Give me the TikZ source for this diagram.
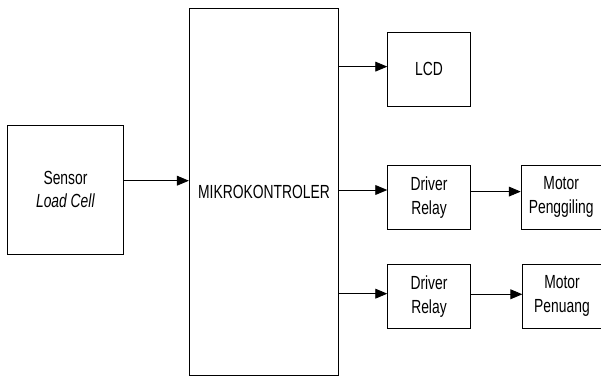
\documentclass[tikz,border=0pt]{standalone}
\usepackage{fontspec}
\setmainfont{Liberation Sans}[FakeStretch=0.73]
\usepackage{tikz}
\usetikzlibrary{arrows.meta, positioning}

\begin{document}
\begin{tikzpicture}[
  x=0.025cm, y=-0.025cm,
  node distance=0.85cm and 1.25cm,
  box/.style={draw, line width=0.6pt, align=center,
              font=\fontsize{13.5}{17}\selectfont, inner sep=0pt},
  arr/.style={-{Triangle[length=8.5pt, width=7pt]}, line width=0.6pt}
]
  \useasboundingbox (0,0) rectangle (601,376);

  \node[box, minimum width=2.91cm, minimum height=3.225cm] (sensor) at (65.5,189.5)
    {Sensor\\ \textit{Load Cell}};
  \node[box, minimum width=3.735cm, minimum height=9.17cm] (mcu) at (264,191.7)
    {MIKROKONTROLER};
  \node[box, minimum width=2.065cm, minimum height=1.61cm] (drv1) at (429,197.2)
    {Driver\\ Relay};
  \node[box, minimum width=2.065cm, minimum height=1.835cm, above=1.45cm of drv1] (lcd)
    {LCD};
  \node[box, minimum width=2.065cm, minimum height=1.6cm, below=of drv1] (drv2)
    {Driver\\ Relay};
  \node[box, minimum width=2.0cm, minimum height=1.61cm, right=of drv1] (mpg)
    {Motor\\ Penggiling};
  \node[box, minimum width=1.96cm, minimum height=1.6cm, right=1.29cm of drv2] (mpn)
    {Motor\\ Penuang};

  \draw[arr] ([yshift=0.22cm]sensor.east) -- ([yshift=0.22cm]sensor.east -| mcu.west);
  \draw[arr] ([yshift=0.07cm]mcu.east |- lcd.west) -- ([yshift=0.07cm]lcd.west);
  \draw[arr] ([yshift=0.18cm]mcu.east |- drv1.west) -- ([yshift=0.18cm]drv1.west);
  \draw[arr] ([yshift=0.065cm]mcu.east |- drv2.west) -- ([yshift=0.065cm]drv2.west);
  \draw[arr] ([yshift=0.14cm]drv1.east) -- ([yshift=0.14cm]mpg.west);
  \draw[arr] ([yshift=0.05cm]drv2.east) -- ([yshift=0.05cm]mpn.west);
\end{tikzpicture}
\end{document}
